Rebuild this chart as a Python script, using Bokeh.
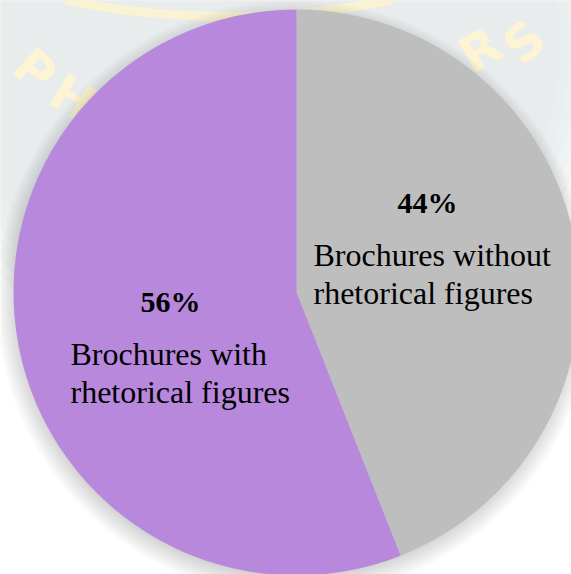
import numpy as np
from bokeh.plotting import figure
from bokeh.models import Range1d, ColumnDataSource
from bokeh.embed import file_html
from bokeh.resources import INLINE
from bokeh.core.properties import value

# ---------------- data ----------------
categories = ["Brochures with rhetorical figures", "Brochures without rhetorical figures"]
percents = [56, 44]
label_lines = [["Brochures with", "rhetorical figures"],
               ["Brochures without", "rhetorical figures"]]
slice_colors = ["#b788db", "#bebebe"]
clockwise_order = [1, 0]   # drawn clockwise from 12 o'clock: "without" first

# watermark letters (decorative background)
wm_letters = ["P", "H", "R", "S"]

# ---------------- layout constants ----------------
W, H = 571, 574
CX, CY, R = 296, H - 292, 283
pct_pos = [(170, 301), (427, 202)]      # screen px (x center, baseline)
line_pos = [(70, 353), (313, 254)]      # screen px (left, baseline of first line)
LINE_GAP = 38
wm_pos = [(34, 70, -0.75), (72, 98, -0.55), (480, 50, 0.55), (524, 42, 0.7)]

p = figure(width=W, height=H, x_range=Range1d(0, W), y_range=Range1d(0, H),
           toolbar_location=None, output_backend="svg",
           min_border=0, min_border_left=0, min_border_right=0,
           min_border_top=0, min_border_bottom=0)
p.axis.visible = False
p.grid.visible = False
p.outline_line_color = None
p.background_fill_color = "white"
p.border_fill_color = "white"

# soft grey watermark disc
for k in range(6):
    p.circle(x=260, y=H - 40, radius=300 + 10 * k, fill_color="#e3e6e6",
             fill_alpha=0.22, line_color=None)

# yellow watermark ring pieces and letters
p.arc(x=227, y=H + 812, radius=828, start_angle=np.radians(-101.3),
      end_angle=np.radians(-78.6), line_width=9, line_color="#fbf3d0", line_alpha=0.9)
p.arc(x=300, y=H + 260, radius=420, start_angle=np.radians(-158),
      end_angle=np.radians(-140), line_width=8, line_color="#fbf3d0", line_alpha=0.9)
p.arc(x=300, y=H + 260, radius=445, start_angle=np.radians(-158),
      end_angle=np.radians(-145), line_width=7, line_color="#fbf3d0", line_alpha=0.9)
p.arc(x=300, y=H + 200, radius=400, start_angle=np.radians(-40),
      end_angle=np.radians(-20), line_width=8, line_color="#fbf3d0", line_alpha=0.9)
wm = ColumnDataSource(dict(
    x=[q[0] for q in wm_pos], y=[H - q[1] for q in wm_pos],
    a=[q[2] for q in wm_pos], t=wm_letters))
p.text(x="x", y="y", text="t", angle="a", source=wm, text_align="center",
       text_baseline="middle", text_font=value("DejaVu Sans"),
       text_font_size="50px", text_font_style="bold", text_color="#fcf4d2")

# soft drop shadow
for k in range(22):
    p.circle(x=CX - 2, y=CY - 6, radius=R + 16 - k, fill_color="black",
             fill_alpha=0.009, line_color=None)

# pie wedges (clockwise from 12 o'clock)
total = float(sum(percents))
ang = np.pi / 2
starts, ends, cols = [], [], []
for i in clockwise_order:
    sweep = percents[i] / total * 2 * np.pi
    starts.append(ang - sweep)
    ends.append(ang)
    cols.append(slice_colors[i])
    ang -= sweep
src = ColumnDataSource(dict(start=starts, end=ends, color=cols))
p.wedge(x=CX, y=CY, radius=R, start_angle="start", end_angle="end",
        fill_color="color", line_color=None, source=src)

# labels
pct_src = ColumnDataSource(dict(
    x=[q[0] for q in pct_pos], y=[H - q[1] for q in pct_pos],
    t=[f"{v}%" for v in percents]))
p.text(x="x", y="y", text="t", source=pct_src, text_align="center",
       text_baseline="alphabetic", text_font=value("Liberation Serif"),
       text_font_size="30px", text_font_style="bold", text_color="black")

lx, ly, lt = [], [], []
for (x0, y0), lines in zip(line_pos, label_lines):
    for j, s in enumerate(lines):
        lx.append(x0)
        ly.append(H - (y0 + j * LINE_GAP))
        lt.append(s)
lab_src = ColumnDataSource(dict(x=lx, y=ly, t=lt))
p.text(x="x", y="y", text="t", source=lab_src, text_align="left",
       text_baseline="alphabetic", text_font=value("Liberation Serif"),
       text_font_size="32px", text_color="black")

open("out.html", "w").write(file_html(p, INLINE))
